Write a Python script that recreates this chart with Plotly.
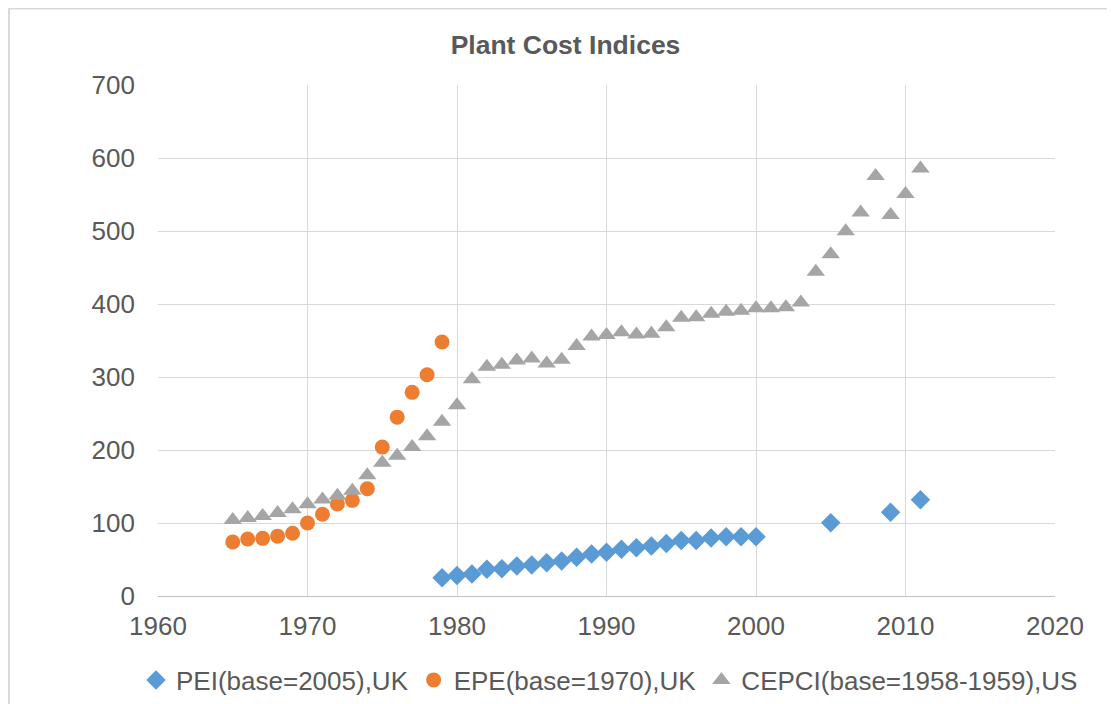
import plotly.graph_objects as go

pei_years = list(range(1979, 2001)) + [2005, 2009, 2011]
pei_values = [25, 28, 30, 36.5, 37.5, 41, 42.5, 45.6, 48, 53, 57.5, 60, 64, 66, 68.5,
              72, 76, 76, 79.5, 81, 81, 81, 100.4, 114.6, 132]

epe_years = list(range(1965, 1980))
epe_values = [74, 78, 79, 82, 86, 100, 112, 126, 131, 147, 204, 245, 279, 303, 348]

cepci_years = list(range(1965, 2012))
cepci_values = [104, 107, 109.7, 113.7, 119, 125.7, 132.3, 137.2, 144.1, 165.4, 182.4,
                192.1, 204.1, 218.8, 238.7, 261.2, 297, 314, 316.9, 322.7, 325.3, 318.4,
                323.8, 342.5, 355.4, 357.6, 361.3, 358.2, 359.2, 368.1, 381.1, 381.7,
                386.5, 389.5, 390.6, 394.1, 394.3, 395.6, 402, 444.2, 468.2, 499.6,
                525.4, 575.4, 521.9, 550.8, 585.7]

x_ticks = [1960, 1970, 1980, 1990, 2000, 2010, 2020]
y_ticks = [0, 100, 200, 300, 400, 500, 600, 700]

fig = go.Figure()
fig.add_trace(go.Scatter(x=pei_years, y=pei_values, mode="markers",
                         name="PEI(base=2005),UK",
                         marker=dict(symbol="diamond", size=15, color="#5B9BD5")))
fig.add_trace(go.Scatter(x=epe_years, y=epe_values, mode="markers",
                         name="EPE(base=1970),UK",
                         marker=dict(symbol="circle", size=15, color="#ED7D31")))
fig.add_trace(go.Scatter(x=cepci_years, y=cepci_values, mode="markers",
                         name="CEPCI(base=1958-1959),US",
                         marker=dict(symbol="triangle-up", size=16, color="#A5A5A5")))

W, H = 1115, 704
L, R, T, B = 150, 68, 77, 116
pw, ph = W - L - R, H - T - B

fig.update_layout(
    width=W, height=H,
    margin=dict(l=L, r=R, t=T, b=B, autoexpand=False),
    paper_bgcolor="white", plot_bgcolor="white",
    font=dict(family="Liberation Sans, Arial, sans-serif", color="#595959"),
    title=dict(text="<b>Plant Cost Indices</b>", x=0.5, xanchor="center",
               y=1 - 37 / H, yanchor="middle", font=dict(size=26.5, color="#595959")),
    showlegend=True,
    legend=dict(orientation="h", x=(128 - L) / pw, xanchor="left",
                y=(H - B - 672) / ph, yanchor="middle",
                font=dict(size=26, color="#595959"), itemsizing="trace",
                traceorder="normal", itemwidth=30, tracegroupgap=0,
                bgcolor="rgba(0,0,0,0)"),
    xaxis=dict(range=[1960, 2020], tickvals=x_ticks, ticktext=[str(v) for v in x_ticks],
               showgrid=True, gridcolor="#D9D9D9", gridwidth=1,
               showline=True, linecolor="#BFBFBF", linewidth=1, zeroline=False,
               ticks="", tickfont=dict(size=26, color="#595959"),
               ticklabelstandoff=7),
    yaxis=dict(range=[0, 700], tickvals=y_ticks, showgrid=True, gridcolor="#D9D9D9",
               gridwidth=1, showline=False, zeroline=False, ticks="",
               tickfont=dict(size=26, color="#595959"), ticklabelstandoff=22),
)

fig.add_shape(type="rect", xref="paper", yref="paper",
              x0=(1 - L) / pw, x1=(W + 20 - L) / pw,
              y0=(H - B - (H + 20)) / ph, y1=(H - B - 0.5) / ph,
              line=dict(color="#D9D9D9", width=2), fillcolor="rgba(0,0,0,0)", layer="below")

fig.write_html("out.html")
